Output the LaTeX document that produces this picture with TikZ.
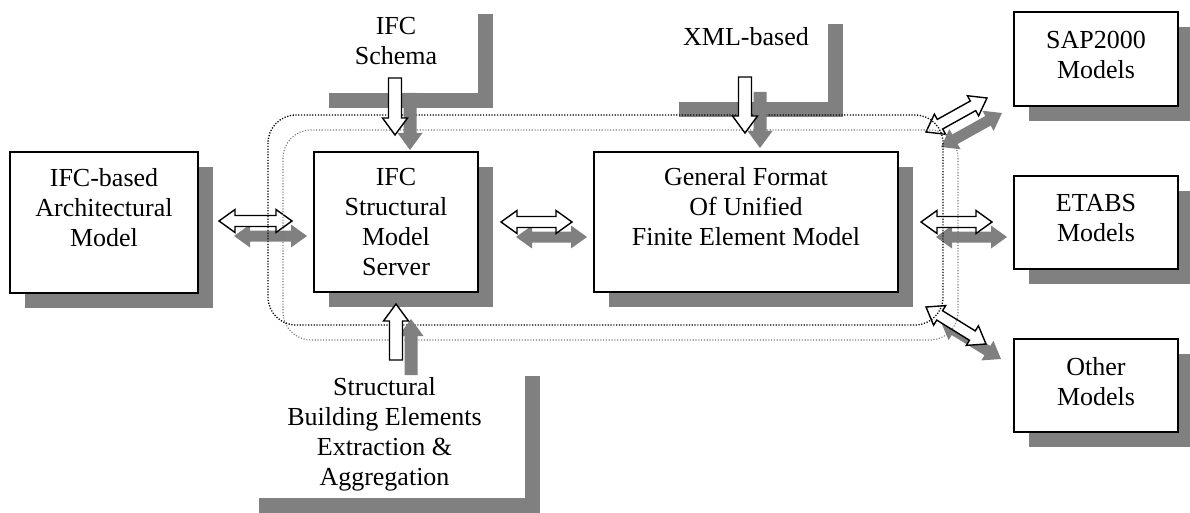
\documentclass[tikz,border=0pt]{standalone}
\usepackage{fontspec}
\setmainfont{Liberation Serif}
\usetikzlibrary{shadows}
\definecolor{shd}{RGB}{128,128,128}
\definecolor{dotgray}{RGB}{120,120,120}
\newdimen\bkax \newdimen\bkay \newdimen\bkbx \newdimen\bkby
\newcommand\bksetup[2]{%
  \pgfextractx{\bkax}{\pgfpointanchor{#1}{center}}%
  \pgfextracty{\bkay}{\pgfpointanchor{#1}{center}}%
  \pgfextractx{\bkbx}{\pgfpointanchor{#2}{center}}%
  \pgfextracty{\bkby}{\pgfpointanchor{#2}{center}}%
  \pgfmathsetmacro\bkang{atan2(\bkby-\bkay,\bkbx-\bkax)}%
  \pgfmathsetmacro\bklen{veclen(\bkbx-\bkax,\bkby-\bkay)}%
}
\newcommand\dblarrow[2]{%
  \bksetup{#1}{#2}%
  \begin{scope}[shift={(15,15)},shift={(\the\bkax,\the\bkay)},rotate=\bkang]
    \fill[shd] (0pt,0pt) -- (16pt,11.5pt) -- (16pt,5.5pt) -- (\bklen pt-16pt,5.5pt) -- (\bklen pt-16pt,11.5pt) -- (\bklen pt,0pt) -- (\bklen pt-16pt,-11.5pt) -- (\bklen pt-16pt,-5.5pt) -- (16pt,-5.5pt) -- (16pt,-11.5pt) -- cycle;
  \end{scope}
  \begin{scope}[shift={(\the\bkax,\the\bkay)},rotate=\bkang]
    \filldraw[blockarrow] (0pt,0pt) -- (16pt,11.5pt) -- (16pt,5.5pt) -- (\bklen pt-16pt,5.5pt) -- (\bklen pt-16pt,11.5pt) -- (\bklen pt,0pt) -- (\bklen pt-16pt,-11.5pt) -- (\bklen pt-16pt,-5.5pt) -- (16pt,-5.5pt) -- (16pt,-11.5pt) -- cycle;
  \end{scope}}
\newcommand\sglarrow[2]{%
  \bksetup{#1}{#2}%
  \begin{scope}[shift={(15,15)},shift={(\the\bkax,\the\bkay)},rotate=\bkang]
    \fill[shd] (0pt,6.5pt) -- (\bklen pt-17pt,6.5pt) -- (\bklen pt-17pt,12.5pt) -- (\bklen pt,0pt) -- (\bklen pt-17pt,-12.5pt) -- (\bklen pt-17pt,-6.5pt) -- (0pt,-6.5pt) -- cycle;
  \end{scope}
  \begin{scope}[shift={(\the\bkax,\the\bkay)},rotate=\bkang]
    \filldraw[blockarrow] (0pt,6.5pt) -- (\bklen pt-17pt,6.5pt) -- (\bklen pt-17pt,12.5pt) -- (\bklen pt,0pt) -- (\bklen pt-17pt,-12.5pt) -- (\bklen pt-17pt,-6.5pt) -- (0pt,-6.5pt) -- cycle;
  \end{scope}}
\tikzset{
  blockarrow/.style={fill=white,draw=black,line width=1.4pt,line join=miter},
  shadowed/.style={drop shadow={shadow xshift=15pt,shadow yshift=-15pt,fill=shd,opacity=1}},
  modelbox/.style={shadowed,draw=black,fill=white,line width=1.5pt,inner sep=0pt,outer sep=0pt},
  textbox/.style={shadowed,draw=none,fill=white,inner sep=0pt,outer sep=0pt},
  lbl/.style={anchor=north,align=center,inner sep=0pt,font=\fontsize{26}{30}\selectfont},
  dotblack/.style={draw=black,line width=1.3pt,dash pattern=on 1.2pt off 1.6pt,rounded corners=28pt},
  dotgrey/.style={draw=dotgray,line width=1.1pt,dash pattern=on 1.1pt off 1.7pt,rounded corners=28pt}
}
\begin{document}
\begin{tikzpicture}[x=1pt,y=-1pt]
\useasboundingbox (0,0) rectangle (1190,513);
% boxes
\node[modelbox,minimum width=188pt,minimum height=141pt] (arch) at (104,222.5) {};
\node[modelbox,minimum width=164pt,minimum height=140pt] (server) at (396,222) {};
\node[modelbox,minimum width=304pt,minimum height=140pt] (general) at (746,222) {};
\node[modelbox,minimum width=164pt,minimum height=94pt] (sap) at (1096,59) {};
\node[modelbox,minimum width=164pt,minimum height=93pt] (etabs) at (1096,222.5) {};
\node[modelbox,minimum width=164pt,minimum height=93pt] (other) at (1096,385.5) {};
\node[textbox,minimum width=164pt,minimum height=94pt] (schema) at (396,46) {};
\node[textbox,minimum width=164pt,minimum height=93pt] (xml) at (746,55.5) {};
\node[textbox,minimum width=281pt,minimum height=137pt] (struct) at (384.5,429.5) {};
% texts
\node[lbl] (archt) at ([yshift=-16pt]arch.north) {IFC-based\\Architectural\\Model};
\node[lbl] (servert) at ([yshift=-16pt]server.north) {IFC\\Structural\\Model\\Server};
\node[lbl] (generalt) at ([yshift=-15pt]general.north) {General Format\\Of Unified\\Finite Element Model};
\node[lbl] (sapt) at ([yshift=-19pt]sap.north) {SAP2000\\Models};
\node[lbl] (etabst) at ([yshift=-18pt]etabs.north) {ETABS\\Models};
\node[lbl] (othert) at ([yshift=-18pt]other.north) {Other\\Models};
\node[lbl] (schemat) at ([yshift=-18pt]schema.north) {IFC\\Schema};
\node[lbl] (xmlt) at ([yshift=-18pt]xml.north) {XML-based};
\node[lbl] (structt) at ([yshift=-16pt]struct.north) {Structural\\Building Elements\\Extraction \&\\Aggregation};
% arrow end points
\coordinate (la1) at (219,221); \coordinate (la2) at (292,221);
\coordinate (ma1) at (501,222); \coordinate (ma2) at (572,222);
\coordinate (ra1) at (921,222); \coordinate (ra2) at (992,222);
\coordinate (sa1) at (926,132); \coordinate (sa2) at (987,98);
\coordinate (oa1) at (926,307); \coordinate (oa2) at (986,344);
\coordinate (da1) at (395,78);  \coordinate (da2) at (395,135);
\coordinate (xa1) at (745,77);  \coordinate (xa2) at (745,133);
\coordinate (ua1) at (396,360); \coordinate (ua2) at (396,304);
\dblarrow{la1}{la2}
\dblarrow{ma1}{ma2}
\dblarrow{ra1}{ra2}
\dblarrow{sa1}{sa2}
\dblarrow{oa1}{oa2}
% dotted enclosure and its shadow
\draw[dotgrey] (283,130) rectangle (958,340);
\draw[dotblack] (268,115) rectangle (943,325);
% vertical arrows
\sglarrow{da1}{da2}
\sglarrow{xa1}{xa2}
\sglarrow{ua1}{ua2}
\end{tikzpicture}
\end{document}
